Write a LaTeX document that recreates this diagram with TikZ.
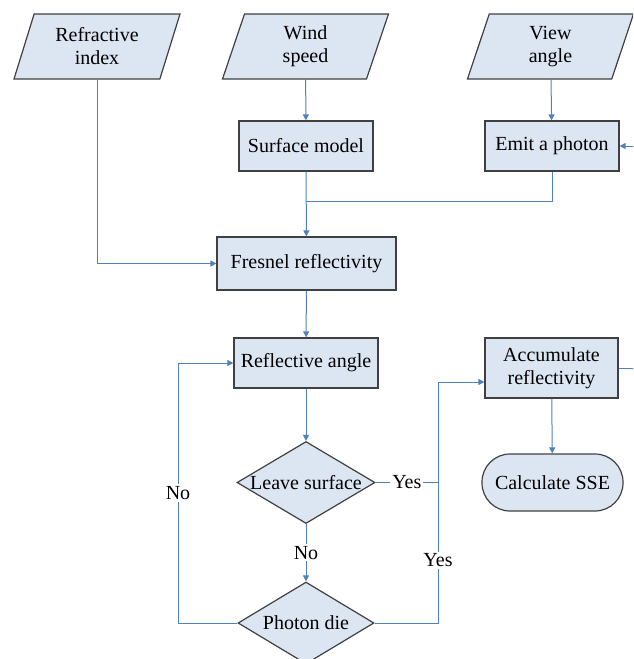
\documentclass[tikz,border=0pt]{standalone}
\usepackage{fontspec}
\setmainfont{Liberation Serif}
\usetikzlibrary{shapes.geometric,arrows.meta}
\definecolor{boxfill}{HTML}{DCE6F2}
\definecolor{boxline}{HTML}{404040}
\definecolor{flowline}{HTML}{4F81BD}

\begin{document}
\begin{tikzpicture}[x=0.5pt, y=-0.5pt, font=\fontsize{10}{11.5}\selectfont,
  every node/.style={draw=boxline, fill=boxfill, line width=0.6pt, align=center, inner sep=1pt},
  io/.style={trapezium, trapezium left angle=64, trapezium right angle=116, trapezium stretches body, minimum width=83pt, minimum height=32.5pt},
  proc/.style={rectangle, minimum width=67pt, minimum height=25pt},
  decision/.style={diamond, aspect=1.7, inner sep=0pt, minimum width=69pt, minimum height=41pt},
  terminal/.style={rectangle, rounded corners=14pt, minimum width=70.5pt, minimum height=28.5pt},
  lbl/.style={draw=none, fill=white, inner sep=1pt},
  flow/.style={draw=flowline, line width=0.5pt},
  >={Triangle[length=3pt,width=3pt]}]
\useasboundingbox (0,0) rectangle (633,659);
\clip (0,0) rectangle (633,659);
% Define all the nodes.
% Inputs
\node[io] (refr_index) at (97,46.5) {Refractive\\index};
\node[io] (wind_speed) at (305.5,46.5) {Wind\\speed};
\node[io] (view_angle) at (550.5,46.5) {View\\angle};
% Surface model
\node[proc] (surf_model) at (306,146) {Surface model};
% Emit a photon
\node[proc] (emit_photon) at (552,146) {Emit a photon};
% Fresnel reflectivity
\node[proc, minimum width=89.5pt, minimum height=26.5pt] (fresnel) at (306.5,263.5) {Fresnel reflectivity};
% Reflective angle
\node[proc, minimum width=72pt] (refl_angle) at (306,363) {Reflective angle};
% Accumulate reflectivity
\node[proc, minimum width=66.5pt, minimum height=30pt] (accumulate) at (551.5,368) {Accumulate\\reflectivity};
% Leave surface
\node[decision] (leave_surface) at (306,482.5) {Leave surface};
% Calculate SSE
\node[terminal] (calc_sse) at (552.5,482.5) {Calculate SSE};
% Photon die
\node[decision, minimum width=68pt] (photon_die) at (306,623) {Photon die};
% Bends of the connectors
\coordinate (join) at (306,201);
\coordinate (yes_join) at (438,482.5);
\coordinate (acc_in) at (438,382);
\coordinate (no_turn) at (178,363);
\coordinate (loop_right) at (645,368);
% Draw the arrows
\draw[flow,->] (refr_index) |- (fresnel);
\draw[flow,->] (wind_speed) -- (surf_model);
\draw[flow,->] (view_angle) -- (emit_photon);
\draw[flow,->] (surf_model) -- (fresnel);
\draw[flow] (emit_photon) |- (join);
\draw[flow,->] (fresnel) -- (refl_angle);
\draw[flow,->] (refl_angle) -- (leave_surface);
\draw[flow,->] (leave_surface) -- node[lbl] {No} (photon_die);
\draw[flow] (leave_surface) -- node[lbl] {Yes} (yes_join);
\draw[flow,->] (photon_die) -| node[lbl, pos=0.63] {Yes} (acc_in) -- (acc_in -| accumulate.west);
\draw[flow,->] (photon_die) -| node[lbl, pos=0.75] {No} (no_turn) -- (refl_angle);
\draw[flow,->] (accumulate) -- (calc_sse);
\draw[flow,->] (accumulate) -- (loop_right) |- (emit_photon);
\end{tikzpicture}
\end{document}
